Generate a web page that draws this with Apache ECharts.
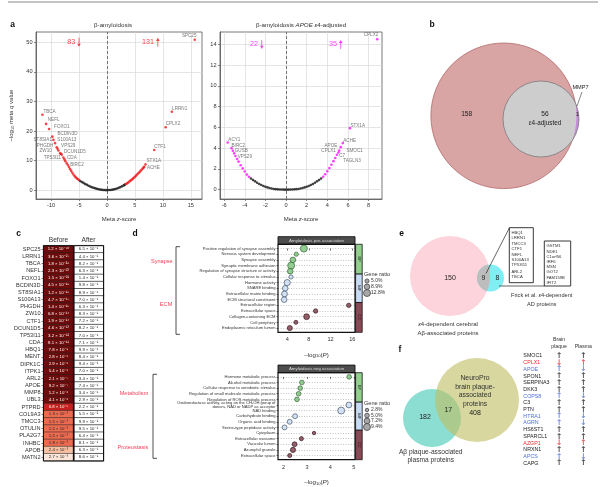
<!DOCTYPE html>
<html><head><meta charset="utf-8">
<script src="https://cdn.jsdelivr.net/npm/echarts@6/dist/echarts.min.js"></script>
<style>html,body{margin:0;padding:0;background:#fff}#c{width:600px;height:487px}</style>
</head><body><div id="c"></div>
<script>
const FONT = "'Liberation Sans', Arial, 'DejaVu Sans', sans-serif";

// ===== a: volcano β-amyloidosis =====
const aNsPts = [[-4.8,3.1],[-4.5,2.75],[-4.2,2.45],[-3.9,2.1],[-3.6,1.8],[-3.3,1.5],[-3.0,1.25],[-2.7,1.0],[-2.4,0.8],[-2.1,0.6],[-1.8,0.44],[-1.5,0.3],[-1.2,0.18],[-0.9,0.1],[-0.6,0.04],[-0.3,0.01],[0,0],[0.3,0.02],[0.6,0.06],[0.9,0.14],[1.2,0.25],[1.5,0.39],[1.8,0.57],[2.1,0.78],[2.4,1.02],[2.7,1.3],[3.0,1.6],[3.2,1.85]];
const aSigPts = [[-5.0,3.4],[-5.2,3.7],[-5.4,4.0],[-5.6,4.4],[-5.8,4.8],[-6.0,5.3],[-6.2,5.9],[-6.4,6.5],[-6.6,7.1],[-6.8,7.8],[-7.2,9.1],[-7.6,10.4],[-8.25,12.3],[-8.85,14.0],
  [3.4,2.05],[3.6,2.3],[3.8,2.6],[4.0,2.9],[4.2,3.2],[4.4,3.5],[4.6,3.8],[4.8,4.15],[5.0,4.5],[5.2,4.9],[5.4,5.3],[5.6,5.7],[5.8,6.05],[6.0,6.5],[6.2,6.9],[6.4,7.3],[6.55,7.6]];
const aLabelled = [['TBCA',-11.55,25.5],['NEFL',-10.9,22.4],['FOXO1',-10.36,20.7],['BCDIN3D',-9.77,18.1],['ST8SIA1',-9.58,17.0],['S100A13',-9.29,15.9],['PHGDH',-8.99,14.5],['ZW10',-8.69,13.4],['VPS29',-8.39,12.5],['DCUN1D5',-8.1,12.0],['TP53I11',-7.8,11.0],['CDA',-7.45,9.8],['BIRC2',-7.0,8.5],
  ['SPC25',15.7,50.9],['LRRN1',11.6,26.5],['CPLX2',10.5,21.3],['CTF1',8.45,13.6],['STX1A',6.9,8.7],['ACHE',6.67,7.9]];
const aCountDown = 83, aCountUp = 131;

// ===== a: volcano APOE ε4-adjusted =====
const bNsPts = [[-3.4,1.08],[-3.2,0.93],[-3.0,0.8],[-2.8,0.67],[-2.6,0.55],[-2.4,0.45],[-2.2,0.36],[-2.0,0.28],[-1.8,0.22],[-1.6,0.16],[-1.4,0.11],[-1.2,0.07],[-1.0,0.05],[-0.8,0.03],[-0.6,0.02],[-0.4,0.01],[-0.2,0],[0,0],[0.2,0],[0.4,0.01],[0.6,0.02],[0.8,0.03],[1.0,0.05],[1.2,0.07],[1.4,0.11],[1.6,0.16],[1.8,0.22],[2.0,0.28],[2.2,0.36],[2.4,0.45],[2.6,0.55],[2.8,0.67],[3.0,0.8],[3.2,0.93],[3.4,1.08]];
const bSigPts = [[-3.6,1.25],[-3.8,1.45],[-4.0,1.75],[-4.2,2.05],[-4.4,2.35],[-4.6,2.7],[-4.9,3.25],[-5.15,3.75],
  [3.6,1.25],[3.8,1.48],[4.0,1.78],[4.2,2.08],[4.4,2.4],[4.6,2.75]];
const bLabelled = [['ACY1',-5.66,4.55],['BIRC2',-5.28,4.0],['GUSB',-5.03,3.5],['VPS29',-4.74,2.95],
  ['TAGLN3',4.77,3.05],['C7',4.93,3.37],['SMOC1',5.08,3.59],['CPLX1',5.15,3.78],['APOE',5.3,4.1],['ACHE',5.5,4.49],['STX1A',6.19,5.93],['CPLX2',8.84,14.5]];
const bCountDown = 22, bCountUp = 35;

// ===== b: Venn =====
const vennB = {onlyA:158, both:56, onlyB:1, onlyBName:'MMP7'};

// ===== c: heatmap =====
const genesC = ['SPC25','LRRN1','TBCA','NEFL','FOXO1','BCDIN3D','ST8SIA1','S100A13','PHGDH','ZW10','CTF1','DCUN1D5','TP53I11','CDA','HBQ1','MENT','DIPK1C','ITPK1','ARL2','APOE','MMP8','UBL3','PTPRD','COL9A3','TMCC3','OTULIN','PLA2G7','INHBC','APOB','MATN2'];
const qBefore = [1.2e-50,3.6e-27,1.8e-26,2.3e-23,1.5e-21,4.5e-19,1.2e-18,4.7e-17,1.4e-15,6.8e-14,1.9e-14,4.6e-13,3.2e-12,8.1e-11,7.8e-9,2.8e-8,2.9e-8,5.4e-8,2.1e-7,9.2e-7,1.2e-6,4.1e-6,6.8e-5,1.3e-3,1.5e-3,1.5e-3,1.5e-3,1.8e-3,2.4e-3,2.7e-3];
const qAfter = [6.5e-1,4.4e-1,8.2e-1,6.3e-1,1.4e-1,9.8e-1,8.9e-1,7.0e-1,6.3e-1,8.3e-1,7.2e-1,8.2e-1,7.0e-1,7.1e-1,9.9e-1,8.4e-1,9.4e-1,7.0e-1,3.4e-1,7.4e-1,3.4e-1,2.9e-1,2.2e-1,5.5e-2,9.9e-1,9.5e-1,6.4e-1,8.1e-1,6.3e-1,8.6e-1];
const columnsC = ['Before','After'];

// ===== d: enrichment =====
const termsTop = ['Positive regulation of synapse assembly','Nervous system development','Synapse assembly','Synaptic membrane adhesion','Regulation of synapse structure or activity','Cellular response to stimulus','Hormone activity','SNARE binding','Extracellular matrix binding','ECM structural constituent','Extracellular region','Extracellular space','Collagen-containing ECM','Cell periphery','Endoplasmic reticulum lumen'];
const pTop = [7.07,5.67,5.04,4.73,4.55,4.7,4.0,3.63,3.5,3.44,15.35,9.24,7.57,5.6,4.48];
const ratioTop = [12.8,5.0,8.9,12.8,8.9,5.0,10.5,8.9,9.5,8.9,5.5,5.5,9.5,4.5,7.5];
const ontTop = ['BP','BP','BP','BP','BP','MF','MF','MF','MF','MF','CC','CC','CC','CC','CC'];
const termsBot = ['Hormone metabolic process','Alcohol metabolic process','Cellular response to xenobiotic stimulus','Regulation of small molecule metabolic process','Regulation of ROS metabolic process','Oxidoreductase activity, acting on the CH-OH group of\ndonors, NAD or NADP as acceptor','NAD binding','Carbohydrate binding','Organic acid binding','Serine-type peptidase activity','Cytoplasm','Extracellular exosome','Vacuolar lumen','Azurophil granule','Extracellular space'];
const pBot = [4.8,2.78,2.71,2.64,2.57,4.79,4.46,2.49,2.26,2.04,3.3,2.76,2.47,2.4,2.26];
const ratioBot = [5.0,5.0,5.0,5.0,5.0,7.2,9.4,5.5,5.5,5.5,2.8,4.0,5.5,6.0,4.0];
const ontBot = ['BP','BP','BP','BP','BP','MF','MF','MF','MF','MF','CC','CC','CC','CC','CC'];
const legendTop = [5.0,8.9,12.8];
const legendBot = [2.8,5.0,7.2,9.4];
const facetTitles = ['Amyloidosis pos association','Amyloidosis neg association'];

// ===== e: Venn =====
const vennE = {onlyA:150, both:9, onlyB:8};
const eShared = ['HBQ1','LRRN1','TMCC3','CTF1','NEFL','S100A13','TP53I11','ARL2','TBCA'];
const eFrick = ['GSTM1','NDE1','C1orf56','IRF6','MSN','GOT2','FAM159B','IFIT2'];

// ===== f: Venn + list =====
const vennF = {onlyA:182, both:17, onlyB:408};
const fGenes = ['SMOC1','CPLX1','APOE','SPON1','SERPINA3','DKK3','COPS8','C3','PTN','HTRA1','AGRN','HS6ST1','SPARCL1','AZGP1','NRXN1','APCS','CAPG'];
const fBrain = ['up','down','up','up','up','up','up','up','up','up','up','up','up','down','up','up','up'];
const fPlasma = ['up','up','down','up','up','up','down','up','up','down','down','up','up','up','up','down','up'];
const fCols = ['Brain\nplaque','Plasma'];

// ---------- styling / layout ----------
const RED = '#f0181c', MAG = '#ff10ff';
const labA = {TBCA:['left',1,-3.3],NEFL:['left',1.7,-4],FOXO1:['left',5,-2.6],BCDIN3D:['left',5,-3.3],ST8SIA1:['right',-1.5,0],S100A13:['left',2.3,-3.7],PHGDH:['right',-3.4,-1.4],ZW10:['right',-6.6,0],VPS29:['left',1,-7],DCUN1D5:['left',2.3,-3.3],TP53I11:['right',-2.6,0.4],CDA:['left',1.7,-3],BIRC2:['left',2.3,-0.7],SPC25:['right',1.7,-4.3],LRRN1:['left',0.3,-2.6],CPLX2:['left',0,-3.4],CTF1:['left',0,-3.7],STX1A:['left',1,-3.3],ACHE:['left',2.7,0.6]};
const labB = {ACY1:['left',0.7,-2.7],BIRC2:['left',0,-2.3],GUSB:['left',0.6,-2.6],VPS29:['left',0.5,-2.6],STX1A:['left',0.5,-2],ACHE:['left',0.5,-2.3],APOE:['right',-3.4,-1.6],CPLX1:['right',-3.3,0],SMOC1:['left',8,-2],C7:['left',2.3,0.7],TAGLN3:['left',8,3],CPLX2:['right',1,-4.7]};

const SUP = {'-':'\u207B','0':'\u2070','1':'\u00B9','2':'\u00B2','3':'\u00B3','4':'\u2074','5':'\u2075','6':'\u2076','7':'\u2077','8':'\u2078','9':'\u2079'};
function sci(p){ const s = p.toExponential(1).split('e'); return s[0] + ' \u00D7 10' + String(parseInt(s[1],10)).split('').map(c=>SUP[c]).join(''); }

const G = {
  va:{left:36, top:32, width:166, height:167},
  vb:{left:220, top:32, width:162, height:167},
  hc:{left:43.5, top:245.7, width:60, height:215.2},
  d1:{left:278, top:244.3, width:77, height:88},
  d2:{left:278, top:372.7, width:77, height:87},
  fl:{left:546.85, top:352.6, width:48.6, height:114}
};
const ONT = {BP:{fill:'#79c279',stroke:'#2e5a2e',strip:'#93d08f'}, MF:{fill:'#c9ddf4',stroke:'#37475f',strip:'#c7dcf4'}, CC:{fill:'#7a3a47',stroke:'#2a1015',strip:'#8a4a55'}};
const sizeTop = r => 2.4 + 0.36*r;
const sizeBot = r => 2.0 + 0.53*r;

function volcX(gi,min,max,ticks,name){
  return {type:'value', gridIndex:gi, min, max,
    axisLine:{show:true,onZero:false,lineStyle:{color:'#555',width:0.8}},
    axisTick:{show:true,length:2,customValues:ticks,lineStyle:{color:'#555',width:0.7}},
    axisLabel:{customValues:ticks,fontSize:5.6,color:'#333',margin:3.5,fontFamily:FONT},
    splitLine:{show:true,lineStyle:{color:'#dadada',width:0.7}},
    name, nameLocation:'middle', nameGap:17,
    nameTextStyle:{rich:{t:{fontSize:6,color:'#333',fontFamily:FONT},i:{fontSize:6,color:'#333',fontStyle:'italic',fontFamily:FONT}}}};
}
function volcY(gi,min,max,ticks,name){
  const o = volcX(gi,min,max,ticks,name);
  o.nameGap = 21; o.nameRotate = 90;
  o.nameTextStyle = {rich:{t:{fontSize:6,color:'#333',fontFamily:FONT},s:{fontSize:4,color:'#333',padding:[3,0,0,0],fontFamily:FONT},i:{fontSize:6,color:'#333',fontStyle:'italic',fontFamily:FONT}}};
  return o;
}
const range = n => Array.from({length:n},(_,i)=>i);

function labelledSeries(list, pos, gi, color){
  return {type:'scatter', xAxisIndex:gi, yAxisIndex:gi, symbolSize:2.6, itemStyle:{color}, z:4,
    label:{show:true, position:'inside', formatter:'{b}', fontSize:4.6, color:'#555', verticalAlign:'middle', fontFamily:FONT},
    data:list.map(([n,z,y])=>({name:n, value:[z,y], label:{align:pos[n][0], offset:[pos[n][1],pos[n][2]]}}))};
}
const ARROW_DOWN = 'path://M4,0 L6,0 L6,13 L9.5,13 L5,20 L0.5,13 L4,13 Z';
const ARROW_UP = 'path://M5,0 L9.5,7 L6,7 L6,20 L4,20 L4,7 L0.5,7 Z';
function countSeries(gi, color, items){
  return {type:'scatter', xAxisIndex:gi, yAxisIndex:gi, z:5, itemStyle:{color},
    data:items.map(it=>({value:[it.x,it.y], name:String(it.n), symbol:it.dir==='down'?ARROW_DOWN:ARROW_UP, symbolSize:[3.6,9]})),
    label:{show:true, position:'left', distance:2, formatter:'{b}', fontSize:7.2, color, fontFamily:FONT}};
}
const zeroLine = {silent:true, symbol:'none', label:{show:false}, lineStyle:{type:[3,2],color:'#555',width:0.8}, data:[{xAxis:0}]};

// heatmap data
const hBefore = qBefore.map((q,i)=>{ const v=-Math.log10(q); return {value:[0,i,v,q], label:{color: v>3.5?'#fff':'#222'}}; });
const hAfter = qAfter.map((q,i)=>({value:[1,i,-Math.log10(q),q]}));

function dotSeries(gi, p, ratio, ont, sizeFn){
  return {type:'scatter', xAxisIndex:gi, yAxisIndex:gi, z:4,
    symbolSize:(v)=>sizeFn(v[2]),
    data:p.map((x,i)=>({value:[x,i,ratio[i]], itemStyle:{color:ONT[ont[i]].fill, borderColor:ONT[ont[i]].stroke, borderWidth:0.8}}))};
}
function dX(gi,min,max,ticks){
  return {type:'value', gridIndex:gi, min, max, axisLine:{show:false},
    axisTick:{show:true,length:2,customValues:ticks,lineStyle:{color:'#333',width:0.7}},
    axisLabel:{customValues:ticks,fontSize:5.6,color:'#333',margin:4.5,fontFamily:FONT},
    splitLine:{show:false},
    name:'{t|\u2013log}{s|10}{t|(}{i|P}{t|)}', nameLocation:'middle', nameGap:19,
    nameTextStyle:{rich:{t:{fontSize:6.2,color:'#333',fontFamily:FONT},s:{fontSize:4.2,color:'#333',padding:[3,0,0,0],fontFamily:FONT},i:{fontSize:6.2,color:'#333',fontStyle:'italic',fontFamily:FONT}}}};
}
function dY(gi,terms){
  const ticks = range(terms.length);
  return {type:'value', gridIndex:gi, min:-0.75, max:terms.length-0.25, inverse:true, axisLine:{show:false},
    axisTick:{show:true,length:1.5,customValues:ticks,lineStyle:{color:'#333',width:0.6}},
    axisLabel:{customValues:ticks, formatter:v=>terms[Math.round(v)], fontSize:4.1, lineHeight:3.4, color:'#333', margin:2.5, fontFamily:FONT},
    splitLine:{show:true,lineStyle:{type:[1,1.6],color:'#9a9a9a',width:0.6}}};
}

// f arrows
const fColor = range(fGenes.length).map(i=> fBrain[i]===fPlasma[i] ? 'k' : (fBrain[i]==='down' ? 'r' : 'b'));
const FCOL = {k:'#222', r:'#ee2a2f', b:'#4d6fdc'};
const fArrowData = [];
fGenes.forEach((g,i)=>{ [fBrain[i], fPlasma[i]].forEach((d,c)=>fArrowData.push({value:[c,i], name:d, label:{color:FCOL[fColor[i]]}})); });

// ---------- graphics ----------
const graphics = [];
function T(x,y,text,o){ o=o||{}; const al=o.align||'center', va=o.verticalAlign||'middle';
  const st = Object.assign({text, fontFamily:FONT, fontSize:6, fill:'#222'}, o, {align:al, textAlign:al, verticalAlign:va, textVerticalAlign:va});
  graphics.push({type:'text', x, y, silent:true, z:20, rotation:o.rotation||0, style:st}); }
function C(cx,cy,r,fill,stroke,lw,z){ graphics.push({type:'circle', silent:true, z:z||1, shape:{cx,cy,r}, style:{fill, stroke:stroke||null, lineWidth:lw||0}}); }
function L(points,stroke,lw,z){ graphics.push({type:'polyline', silent:true, z:z||15, shape:{points}, style:{stroke:stroke||'#222', lineWidth:lw||0.7, fill:null}}); }
function R(x,y,w,h,fill,stroke,lw,z){ graphics.push({type:'rect', silent:true, z:z||12, shape:{x,y,width:w,height:h}, style:{fill, stroke:stroke||null, lineWidth:lw||0}}); }
function lensPts(A,B){
  const pts=[];
  for(let i=0;i<720;i++){ const t=i*Math.PI/360;
    const ax=A.cx+A.r*Math.cos(t), ay=A.cy+A.r*Math.sin(t);
    if((ax-B.cx)**2+(ay-B.cy)**2<=B.r*B.r) pts.push([ax,ay]);
    const bx=B.cx+B.r*Math.cos(t), by=B.cy+B.r*Math.sin(t);
    if((bx-A.cx)**2+(by-A.cy)**2<=A.r*A.r) pts.push([bx,by]); }
  const mx=pts.reduce((s,p)=>s+p[0],0)/pts.length, my=pts.reduce((s,p)=>s+p[1],0)/pts.length;
  pts.sort((p,q)=>Math.atan2(p[1]-my,p[0]-mx)-Math.atan2(q[1]-my,q[0]-mx));
  return pts;
}
function P(points,fill,z){ graphics.push({type:'polygon', silent:true, z:z||3, shape:{points}, style:{fill}}); }

// header rule and panel letters
L([[8,2],[598,2]],'#8a8a8a',1.2,1);
[['a',12.5,25],['b',432,25],['c',18.5,233.5],['d',135,233.5],['e',401.5,234],['f',400,350]].forEach(([t,x,y])=>T(x,y,t,{fontSize:8.5,fontWeight:'bold',fill:'#111'}));
T(113,25,'\u03B2-amyloidosis',{fontSize:6.2,fill:'#333'});
T(301,25,'{t|\u03B2-amyloidosis }{i|APOE \u03B5}{t|4-adjusted}',{fontSize:6.2,fill:'#333',rich:{t:{fontSize:6.2,fill:'#333',fontFamily:FONT},i:{fontSize:6.2,fill:'#333',fontStyle:'italic',fontFamily:FONT}}});

// b Venn
const bA={cx:503.7,cy:115.8,r:72.8}, bB={cx:541,cy:119,r:38};
C(bA.cx,bA.cy,bA.r,'#d9a4a4','#b46a6a',0.8,1);
C(bB.cx,bB.cy,bB.r,'#c58ad8',null,0,2);
P(lensPts(bA,bB),'#cdcdcd',3);
C(bB.cx,bB.cy,bB.r,null,'#7a7a7a',0.8,4);
T(466.7,114.5,String(vennB.onlyA),{fontSize:6.6});
T(545,114.5,String(vennB.both),{fontSize:6.6});
T(545,123,'{i|\u03B5}{t|4-adjusted}',{fontSize:6.4,rich:{t:{fontSize:6.4,fill:'#222',fontFamily:FONT},i:{fontSize:6.4,fill:'#222',fontStyle:'italic',fontFamily:FONT}}});
T(577.3,114.5,String(vennB.onlyB),{fontSize:5.6});
T(580.5,87.5,vennB.onlyBName,{fontSize:5.6});
L([[577,106],[582,92]],'#333',0.6);

// c column frames
const hc = G.hc;
R(hc.left, hc.top, hc.width/2, hc.height, null, '#111', 1, 14);
R(hc.left+hc.width/2+0.6, hc.top, hc.width/2-0.6, hc.height, null, '#111', 1, 14);
L([[hc.left+hc.width/2, hc.top],[hc.left+hc.width/2, hc.top+hc.height]], '#fff', 0.9, 13);

// d decorations
function rowY(g,v,n){ return g.top + (v+0.75)/(n+0.5)*g.height; }
[[G.d1,facetTitles[0],termsTop.length,ontTop],[G.d2,facetTitles[1],termsBot.length,ontBot]].forEach(([g,title,n,ont])=>{
  R(g.left,g.top-7.6,g.width,7.6,'#4d4d4d','#111',0.9,12);
  T(g.left+g.width/2,g.top-3.8,title,{fontSize:4.4,fill:'#d8d8d8'});
  R(g.left,g.top,g.width,g.height,null,'#111',1.2,13);
  let s=0;
  while(s<n){ let e=s; while(e+1<n && ont[e+1]===ont[s]) e++;
    const y0=s===0?g.top:rowY(g,s-0.5,n), y1=e===n-1?g.top+g.height:rowY(g,e+0.5,n);
    R(g.left+g.width+0.6,y0,6.6,y1-y0,ONT[ont[s]].strip,'#111',0.8,12);
    T(g.left+g.width+3.9,(y0+y1)/2,ont[s],{fontSize:4.2,fill:ont[s]==='CC'?'#2a0a10':'#333',rotation:-Math.PI/2});
    s=e+1; }
});
T(172.7,261.7,'Synapse',{align:'right',fontSize:5.6,fill:'#f0445a'});
T(172.3,304,'ECM',{align:'right',fontSize:5.6,fill:'#f0445a'});
T(148.3,393.3,'Metabolism',{align:'right',fontSize:5.6,fill:'#f0445a'});
T(148.3,447.3,'Proteostasis',{align:'right',fontSize:5.6,fill:'#f0445a'});
L([[180,246.7],[176,246.7],[176,334.3],[180,334.3]],'#222',0.8);
L([[157,374.3],[153,374.3],[153,458.3],[157,458.3]],'#222',0.8);
function legend(x,yTitle,vals,sizeFn,ys){
  T(x,yTitle,'Gene ratio',{align:'left',fontSize:5.6,fill:'#333'});
  vals.forEach((v,i)=>{ C(x+3,ys[i],sizeFn(v)/2,'#a8a8a8','#333',0.7,12); T(x+7,ys[i],v.toFixed(1)+'%',{align:'left',fontSize:5,fill:'#333'}); });
}
legend(364,274,legendTop,sizeTop,[281,286.8,293]);
legend(364,403,legendBot,sizeBot,[410,415.5,421,427]);

// e Venn
const eA={cx:450,cy:276,r:40}, eB={cx:490.5,cy:278,r:13.5};
C(eA.cx,eA.cy,eA.r,'#fdd4db',null,0,1);
C(eB.cx,eB.cy,eB.r,'#80eef2',null,0,2);
P(lensPts(eA,eB),'#bdbdbd',3);
T(450,278,String(vennE.onlyA),{fontSize:7});
T(483.5,278,String(vennE.both),{fontSize:7});
T(497.5,278,String(vennE.onlyB),{fontSize:7});
R(509.3,227.7,24,55,'#fff','#222',0.9,12);
const e1y=[233.3,237.7,244.3,249,255,260,265,272.3,277];
eShared.forEach((g,i)=>T(511.5,e1y[i],g,{align:'left',fontSize:4.2,fill:'#333'}));
R(544.3,241,26.4,45,'#fff','#222',0.9,12);
eFrick.forEach((g,i)=>T(546.5,246.2+i*5.2,g,{align:'left',fontSize:4.2,fill:'#333'}));
L([[509.3,228],[486,273.5]],'#222',0.7);
L([[499,286],[544.3,286]],'#222',0.7);
T(541.7,295.7,'Frick et al. {i|\u03B5}4-dependent',{fontSize:5.6,fill:'#333',rich:{i:{fontSize:5.6,fill:'#333',fontStyle:'italic',fontFamily:FONT}}});
T(541.7,304.2,'AD proteins',{fontSize:5.6,fill:'#333'});
T(448,324.3,'{i|\u03B5}4-dependent cerebral',{fontSize:6,fill:'#333',rich:{i:{fontSize:6,fill:'#333',fontStyle:'italic',fontFamily:FONT}}});
T(448,333.3,'A\u03B2-associated proteins',{fontSize:6,fill:'#333'});

// f Venn
C(432,418,29,'rgba(64,200,180,0.6)',null,0,1);
C(477,400,42,'rgba(190,190,100,0.62)',null,0,2);
['NeuroPro','brain plaque-','associated','proteins'].forEach((t,i)=>T(475,378.3+i*8.5,t,{fontSize:6.8,fill:'#333'}));
T(475,413.3,String(vennF.onlyB),{fontSize:7});
T(425,416.7,String(vennF.onlyA),{fontSize:7});
T(448.3,410,String(vennF.both),{fontSize:7});
T(430.7,451.7,'A\u03B2 plaque-associated',{fontSize:6.6,fill:'#333'});
T(430.7,460.2,'plasma proteins',{fontSize:6.6,fill:'#333'});

const gridOf = g => Object.assign({outerBoundsMode:'none', containLabel:false}, g);
const option = {
  animation:false,
  backgroundColor:'#fff',
  textStyle:{fontFamily:FONT},
  grid:[gridOf(Object.assign({show:true,borderColor:'#555',borderWidth:0.8},G.va)), gridOf(Object.assign({show:true,borderColor:'#555',borderWidth:0.8},G.vb)), gridOf(G.hc), gridOf(G.d1), gridOf(G.d2), gridOf(G.fl)],
  xAxis:[
    volcX(0,-12.7,17,[-10,-5,0,5,10,15],'{t|Meta }{i|z}{t|-score}'),
    volcX(1,-6.4,9.3,[-6,-4,-2,0,2,4,6,8],'{t|Meta }{i|z}{t|-score}'),
    {type:'category', gridIndex:2, data:columnsC, position:'top', axisLine:{show:false}, axisTick:{show:false}, axisLabel:{interval:0,fontSize:6.6,color:'#333',margin:2.5,fontFamily:FONT}},
    dX(3,2.3,16.5,[4,8,12,16]),
    dX(4,1.76,5.05,[2,3,4,5]),
    {type:'category', gridIndex:5, data:fCols, position:'top', axisLine:{show:false}, axisTick:{show:false}, axisLabel:{interval:0,fontSize:5.2,lineHeight:7,color:'#333',margin:3,fontFamily:FONT}}
  ],
  yAxis:[
    volcY(0,-3,53.5,[0,10,20,30,40,50],'{t|\u2013log}{s|10}{t| meta }{i|q}{t| value}'),
    Object.assign(volcX(1,-0.9,15.2,[0,2,4,6,8,10,12,14],''),{name:''}),
    {type:'category', gridIndex:2, data:genesC, inverse:true, axisLine:{show:false}, axisTick:{show:true,length:2,interval:0,alignWithLabel:true,lineStyle:{color:'#333',width:0.6}}, axisLabel:{interval:0,fontSize:5.6,color:'#333',margin:3,fontFamily:FONT}},
    dY(3,termsTop),
    dY(4,termsBot),
    {type:'category', gridIndex:5, data:fGenes, inverse:true, axisLine:{show:false}, axisTick:{show:false},
      axisLabel:{interval:0, align:'left', margin:23.5, fontFamily:FONT, formatter:(v,i)=>'{'+fColor[i]+'|'+v+'}',
        rich:{k:{color:FCOL.k,fontSize:5.3,fontFamily:FONT},r:{color:FCOL.r,fontSize:5.3,fontFamily:FONT},b:{color:FCOL.b,fontSize:5.3,fontFamily:FONT}}}}
  ],
  visualMap:[{type:'piecewise', show:false, seriesIndex:12, dimension:2,
    pieces:[{lt:2.6,color:'#fce5d9'},{gte:2.6,lt:2.7,color:'#f6c0a2'},{gte:2.7,lt:3.5,color:'#ec6b50'},{gte:3.5,lt:5,color:'#c8201e'},{gte:5,color:'#6e0b0b'}]}],
  series:[
    {type:'scatter', xAxisIndex:0, yAxisIndex:0, symbolSize:2.6, itemStyle:{color:'#111'}, data:aNsPts, markLine:zeroLine, z:3},
    {type:'scatter', xAxisIndex:0, yAxisIndex:0, symbolSize:2.6, itemStyle:{color:RED}, data:aSigPts, z:4},
    labelledSeries(aLabelled, labA, 0, RED),
    countSeries(0, RED, [{x:-5,y:50,n:aCountDown,dir:'down'},{x:9.1,y:50,n:aCountUp,dir:'up'}]),
    {type:'scatter', xAxisIndex:1, yAxisIndex:1, symbolSize:2.6, itemStyle:{color:'#111'}, data:bNsPts, markLine:zeroLine, z:3},
    {type:'scatter', xAxisIndex:1, yAxisIndex:1, symbolSize:2.6, itemStyle:{color:MAG}, data:bSigPts, z:4},
    labelledSeries(bLabelled, labB, 1, MAG),
    countSeries(1, MAG, [{x:-2.35,y:14,n:bCountDown,dir:'down'},{x:5.3,y:14,n:bCountUp,dir:'up'}]),
    dotSeries(3,pTop,ratioTop,ontTop,sizeTop),
    dotSeries(4,pBot,ratioBot,ontBot,sizeBot),
    {type:'scatter', xAxisIndex:5, yAxisIndex:5, symbolSize:0, data:fArrowData,
      label:{show:true, position:'inside', formatter:p=>p.name==='up'?'\u2191':'\u2193', fontSize:8, fontWeight:'bold', fontFamily:"'DejaVu Sans', sans-serif"}},
    {type:'scatter', xAxisIndex:2, yAxisIndex:2, symbolSize:0, data:[]},
    {type:'heatmap', xAxisIndex:2, yAxisIndex:2, data:hBefore, z:3,
      itemStyle:{borderColor:'#222', borderWidth:0.5},
      label:{show:true, fontSize:4.3, fontFamily:FONT, formatter:p=>sci(p.data.value ? p.data.value[3] : p.data[3])}},
    {type:'heatmap', xAxisIndex:2, yAxisIndex:2, data:hAfter, z:3,
      itemStyle:{color:'#fff', borderColor:'#111', borderWidth:0.6},
      label:{show:true, fontSize:4.3, color:'#222', fontFamily:FONT, formatter:p=>sci(p.value[3])}}
  ],
  graphic:graphics
};
const chart = echarts.init(document.getElementById('c'), null, {renderer:'canvas'});
chart.setOption(option);
</script></body></html>
